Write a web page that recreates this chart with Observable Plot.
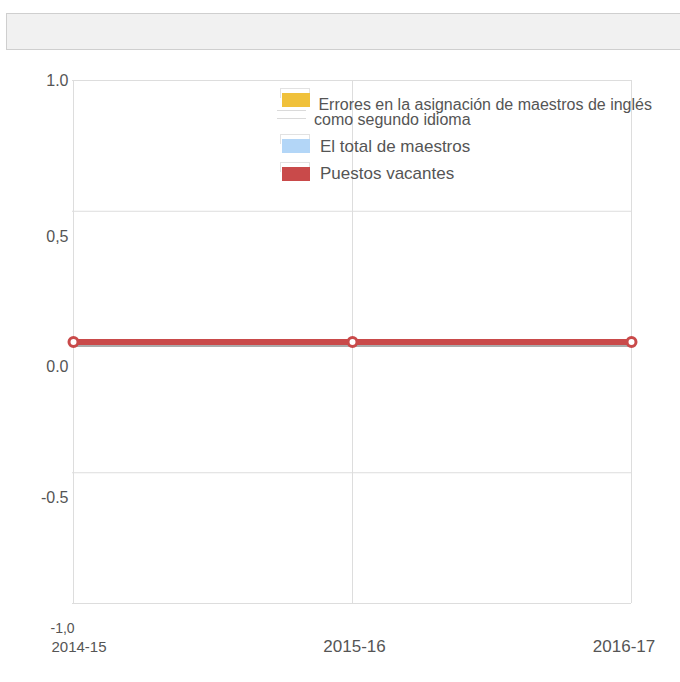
<!DOCTYPE html>
<html><head><meta charset="utf-8">
<script src="https://cdn.jsdelivr.net/npm/d3@7"></script>
<script src="https://cdn.jsdelivr.net/npm/@observablehq/plot@0.6"></script>
<style>
body{margin:0;background:#fff;font-family:"Liberation Sans",Arial,sans-serif;}
#wrap{position:relative;width:680px;height:682px;overflow:hidden}
#topbox{position:absolute;left:6px;top:13px;width:700px;height:37px;background:#f1f1f1;border:1.5px solid #cfcfcf;box-sizing:border-box}
#chart{position:absolute;left:0;top:0}
.lg{position:absolute;color:#555;white-space:nowrap}
.sw{position:absolute;width:28px;height:14px}
.br{position:absolute;width:30px;height:10px;border:1px solid #e2e2e2;border-bottom:none;box-sizing:border-box}
.hl{position:absolute;height:1px;width:29px;background:#dadada}
</style>
</head><body>
<div id="wrap"><div id="chart"></div><div id="topbox"></div><div id="legend"></div></div>
<script>
const years = ["2014-15", "2015-16", "2016-17"];
const seriesNames = ["Errores en la asignación de maestros de inglés como segundo idioma", "El total de maestros", "Puestos vacantes"];
const seriesColors = ["#f0c13b", "#b3d6f7", "#c94a4a"];
const errores = [0, 0, 0];
const totalMaestros = [0, 0, 0];
const vacantes = [0, 0, 0];
const yTicks = [1, 0.5, 0, -0.5, -1];
const yTickLabels = ["1.0", "0,5", "0.0", "-0.5", "-1,0"];

const seriesValues = [errores, totalMaestros, vacantes];
const rows = seriesValues.flatMap((vals, i) => vals.map((v, j) => ({series: seriesNames[i], year: years[j], value: v})));
const redRows = rows.filter(d => d.series === seriesNames[2]);
const lbl = v => yTickLabels[yTicks.indexOf(v)];
const txt = "#555";

const chart = Plot.plot({
  width: 680, height: 682,
  marginLeft: 72, marginRight: 49, marginTop: 80, marginBottom: 79,
  style: {fontFamily: "Liberation Sans, Arial, sans-serif", background: "transparent"},
  x: {type: "point", domain: years, padding: 0, axis: null},
  y: {domain: [-1, 1], axis: null},
  color: {domain: seriesNames, range: seriesColors},
  marks: [
    Plot.ruleY(yTicks, {stroke: "#dddddd"}),
    Plot.ruleX(years, {stroke: "#dddddd", y1: -1, y2: 1}),
    Plot.line(redRows, {x: "year", y: "value", stroke: "#666", strokeOpacity: 0.55, strokeWidth: 5, dy: 2.5}),
    Plot.line(rows, {x: "year", y: "value", z: "series", stroke: "series", strokeWidth: 6}),
    Plot.dot(redRows, {x: "year", y: "value", r: 4.5, fill: "white", stroke: seriesColors[2], strokeWidth: 3}),
    Plot.text(yTicks.slice(0, 1), {y: d => d, text: lbl, frameAnchor: "left", textAnchor: "end", lineAnchor: "bottom", dx: -4, dy: 5.7, fontSize: 16, fill: txt}),
    Plot.text(yTicks.slice(1, 4), {y: d => d, text: lbl, frameAnchor: "left", textAnchor: "end", lineAnchor: "bottom", dx: -4, dy: 30.3, fontSize: 16, fill: txt}),
    Plot.text(yTicks.slice(4), {y: d => d, text: lbl, frameAnchor: "left", textAnchor: "start", lineAnchor: "bottom", dx: -22, dy: 29.7, fontSize: 14, fill: txt}),
    Plot.text(years.slice(0, 1), {x: d => d, text: d => d, frameAnchor: "bottom", lineAnchor: "bottom", dx: 5.5, dy: 48.7, fontSize: 15, fill: txt}),
    Plot.text(years.slice(1, 2), {x: d => d, text: d => d, frameAnchor: "bottom", lineAnchor: "bottom", dx: 2, dy: 48.7, fontSize: 17, fill: txt}),
    Plot.text(years.slice(2), {x: d => d, text: d => d, frameAnchor: "bottom", lineAnchor: "bottom", dx: -7.5, dy: 48.7, fontSize: 17, fill: txt})
  ]
});
document.getElementById("chart").appendChild(chart);

// Legend (HTML overlay)
const legend = document.getElementById("legend");
const swTops = [93, 138.5, 166.5];
const txtTops = [96.5, 138.3, 164.9];
seriesNames.forEach((name, i) => {
  const br = document.createElement("div");
  br.className = "br"; br.style.left = "280px"; br.style.top = (swTops[i] - 5) + "px";
  legend.appendChild(br);
  const sw = document.createElement("div");
  sw.className = "sw"; sw.style.left = "282px"; sw.style.top = swTops[i] + "px";
  sw.style.background = seriesColors[i];
  legend.appendChild(sw);
  const t = document.createElement("div");
  t.className = "lg";
  if (i === 0) {
    t.style.left = "314px"; t.style.top = txtTops[i] + "px";
    t.style.fontSize = "16px"; t.style.lineHeight = "15.5px";
    t.innerHTML = "&nbsp;Errores en la asignación de maestros de inglés<br>como segundo idioma";
  } else {
    t.style.left = "320px"; t.style.top = txtTops[i] + "px";
    t.style.fontSize = "17px"; t.style.lineHeight = "17px";
    t.textContent = name;
  }
  legend.appendChild(t);
});
[110, 118].forEach(y => {
  const h = document.createElement("div");
  h.className = "hl"; h.style.left = "277px"; h.style.top = y + "px";
  legend.appendChild(h);
});
</script>
</body></html>
